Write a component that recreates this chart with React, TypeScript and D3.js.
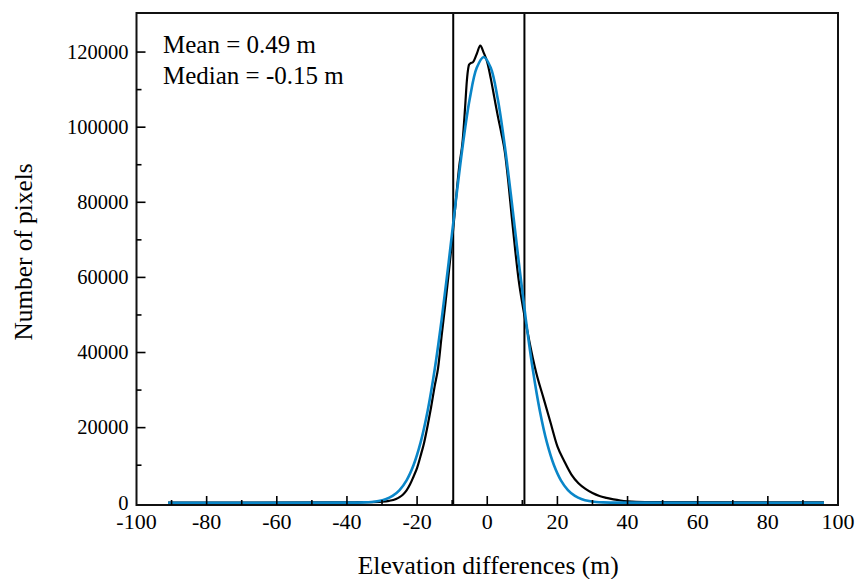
import React from "react";
import * as d3 from "d3";

const xTicks = [-100, -80, -60, -40, -20, 0, 20, 40, 60, 80, 100];
const xMinorTicks = [-90, -70, -50, -30, -10, 10, 30, 50, 70, 90];
const yTicks = [0, 20000, 40000, 60000, 80000, 100000, 120000];
const yMinorTicks = [10000, 30000, 50000, 70000, 90000, 110000];

// Histogram (black)
const histX = [-91, -45, -40, -35, -30, -28, -26, -25, -24, -23, -22, -21, -20, -19, -18, -17, -16, -15, -14, -13, -12, -11, -10, -9, -8, -7, -6.3, -5.8, -5.4, -5.2, -4.8, -4.1, -3, -2, -1, 0, 1, 2, 3, 4, 5, 6, 7, 8, 9, 10, 11, 12, 13, 14, 16, 18, 20, 22, 24, 26, 28, 30, 32, 34, 36, 38, 40, 45, 96];
const histY = [60, 80, 100, 150, 300, 500, 1000, 1500, 2200, 3300, 4900, 7000, 9300, 12500, 16000, 20500, 25500, 31000, 36000, 44500, 52500, 61000, 70000, 80000, 89500, 96500, 105500, 112500, 115800, 116600, 117000, 117300, 119500, 121700, 119800, 117300, 113000, 108000, 103000, 98500, 93500, 85500, 76000, 67000, 59000, 53000, 47800, 43000, 38500, 34500, 28000, 21500, 15000, 11000, 7500, 5200, 3700, 2600, 1800, 1300, 900, 600, 400, 200, 80];

// Gaussian fit (blue)
const fitX = [-91, -37, -35, -33, -31, -29, -27, -25, -23, -21, -19, -17, -15, -13, -11, -9, -7, -5, -3, -1, 1, 3, 5, 7, 9, 11, 13, 15, 17, 19, 21, 23, 25, 27, 29, 31, 33, 35, 96];
const fitY = [0, 40, 95, 215, 460, 940, 1830, 3390, 5980, 10050, 16060, 24440, 35400, 48800, 64000, 80000, 95000, 107500, 115800, 118700, 115800, 107500, 95000, 80000, 64000, 48800, 35400, 24440, 16060, 10050, 5980, 3390, 1830, 940, 460, 215, 95, 40, 0];

const limitLines = [-9.7, 10.6];

const annotations = ["Mean = 0.49 m", "Median = -0.15 m"];

const W = 856;
const H = 579;
const L = 136.5;
const R = 838;
const T = 13;
const B = 505;

const FONT = "Liberation Serif";

export default function App() {
  const x = d3.scaleLinear().domain([-100, 100]).range([L, R]);
  const y = d3.scaleLinear().domain([-600, 130400]).range([B, T]);

  const histPts: [number, number][] = histX.map((v, i) => [v, histY[i]]);
  const fitPts: [number, number][] = fitX.map((v, i) => [v, fitY[i]]);

  const lineHist = d3
    .line<[number, number]>()
    .x((d) => x(d[0]))
    .y((d) => y(d[1]))
    .curve(d3.curveMonotoneX);
  const lineSmooth = d3
    .line<[number, number]>()
    .x((d) => x(d[0]))
    .y((d) => y(d[1]))
    .curve(d3.curveCatmullRom);

  return (
    <svg
      width={W}
      height={H}
      fontFamily={FONT}
      style={{ position: "absolute", left: 0, top: 0, background: "#fff", fontFamily: FONT }}
    >
      <rect x={0} y={0} width={W} height={H} fill="#fff" />
      <defs>
        <clipPath id="plot">
          <rect x={L} y={T} width={R - L} height={B - T} />
        </clipPath>
      </defs>

      {limitLines.map((v) => (
        <line key={v} x1={x(v)} x2={x(v)} y1={T} y2={B} stroke="#000" strokeWidth={2} />
      ))}

      <g clipPath="url(#plot)">
        <path d={lineHist(histPts) || ""} fill="none" stroke="#000" strokeWidth={2.2} strokeLinejoin="round" />
        <path d={lineSmooth(fitPts) || ""} fill="none" stroke="#0a86c8" strokeWidth={2.6} strokeLinejoin="round" />
      </g>

      <rect x={L} y={T} width={R - L} height={B - T} fill="none" stroke="#111" strokeWidth={2} />

      {xTicks.map((t) => (
        <g key={"xt" + t}>
          {t > -100 && t < 100 && (
            <line x1={x(t)} x2={x(t)} y1={B} y2={B - 9} stroke="#000" strokeWidth={1.6} />
          )}
          <text x={x(t)} y={529} textAnchor="middle" fontFamily={FONT} fontSize={22} fill="#000">
            {t}
          </text>
        </g>
      ))}
      {xMinorTicks.map((t) => (
        <line key={"xm" + t} x1={x(t)} x2={x(t)} y1={B} y2={B - 5} stroke="#000" strokeWidth={1.6} />
      ))}

      {yTicks.map((t) => (
        <g key={"yt" + t}>
          {t > 0 && <line x1={L} x2={L + 9} y1={y(t)} y2={y(t)} stroke="#000" strokeWidth={1.6} />}
          <text x={L - 8} y={y(t)} dy="0.33em" textAnchor="end" fontFamily={FONT} fontSize={20.5} fill="#000">
            {t}
          </text>
        </g>
      ))}
      {yMinorTicks.map((t) => (
        <line key={"ym" + t} x1={L} x2={L + 5} y1={y(t)} y2={y(t)} stroke="#000" strokeWidth={1.6} />
      ))}

      <text x={(L + R) / 2 + 1} y={574} textAnchor="middle" fontFamily={FONT} fontSize={25.6} fill="#000">
        Elevation differences (m)
      </text>
      <text transform={`translate(32,252) rotate(-90)`} textAnchor="middle" fontFamily={FONT} fontSize={25.3} fill="#000">
        Number of pixels
      </text>

      {annotations.map((a, i) => (
        <text key={a} x={163} y={53 + i * 30.5} fontFamily={FONT} fontSize={25} fill="#000">
          {a}
        </text>
      ))}
    </svg>
  );
}
